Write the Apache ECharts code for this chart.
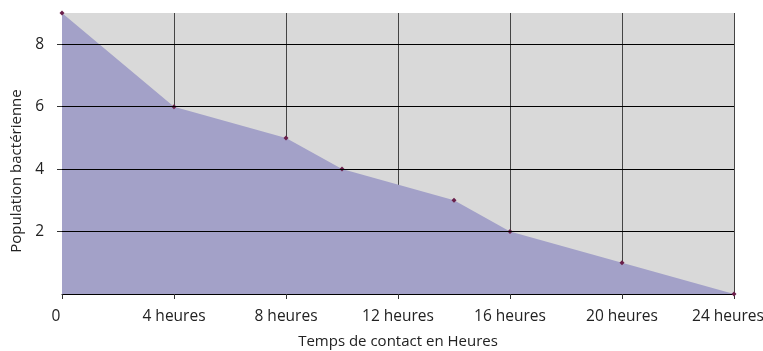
<!DOCTYPE html>
<html>
<head>
<meta charset="utf-8">
<script src="https://cdn.jsdelivr.net/npm/echarts@6/dist/echarts.min.js"></script>
<style>
	html, body { margin: 0; padding: 0; background: #fff; }
	#main { width: 763px; height: 351px; }
</style>
</head>
<body>
<div id="main"></div>
<script>
// heures de contact et population
var hours = [ 0, 4, 8, 10, 14, 16, 20, 24 ];
var population = [ 9, 6, 5, 4, 3, 2, 1, 0 ];
var xTicks = [ 0, 4, 8, 12, 16, 20, 24 ];
var yGridLines = [ 2, 4, 6, 8 ];

var points = [];
for (var i = 0; i < hours.length; i++) {
	points.push([ hours[i], population[i] ]);
}

var hLines = [];
for (var j = 0; j < yGridLines.length; j++) {
	hLines.push({
		yAxis : yGridLines[j]
	});
}

var font = 'Open Sans';
var xMax = xTicks[xTicks.length - 1];

var option = {
	animation : false,
	textStyle : {
		fontFamily : font
	},
	grid : {
		left : 62,
		right : 29,
		top : 13,
		bottom : 57,
		outerBoundsMode : 'none',
		containLabel : false,
		show : true,
		backgroundColor : '#d9d9d9',
		borderWidth : 0
	},
	xAxis : {
		type : 'value',
		min : xTicks[0],
		max : xMax,
		interval : 4,
		name : 'Temps de contact en Heures',
		nameLocation : 'middle',
		nameGap : 40,
		nameTextStyle : {
			fontSize : 15,
			color : '#222',
			fontFamily : font
		},
		axisLine : {
			show : true,
			lineStyle : {
				color : '#000'
			}
		},
		axisTick : {
			show : true,
			length : 5,
			lineStyle : {
				color : '#333'
			}
		},
		axisLabel : {
			fontSize : 15.5,
			color : '#222',
			margin : 15,
			formatter : function(v) {
				if (v === 0) {
					return '{e|0}';
				}
				if (v === xMax) {
					return '{e|' + v + ' heures}';
				}
				return v + ' heures';
			},
			rich : {
				e : {
					fontSize : 15.5,
					color : '#222',
					fontFamily : font,
					padding : [ 0, 12, 0, 0 ]
				}
			}
		},
		splitLine : {
			show : true,
			lineStyle : {
				color : '#444',
				width : 1
			}
		}
	},
	yAxis : {
		type : 'value',
		min : 0,
		max : 9,
		interval : 2,
		name : 'Population bactérienne',
		nameLocation : 'middle',
		nameGap : 38,
		nameTextStyle : {
			fontSize : 15,
			color : '#222',
			fontFamily : font,
			padding : [ 0, 35, 0, 0 ]
		},
		axisLine : {
			show : true,
			lineStyle : {
				color : '#000'
			}
		},
		axisTick : {
			show : true,
			length : 5,
			lineStyle : {
				color : '#333'
			}
		},
		axisLabel : {
			fontSize : 15.5,
			color : '#222',
			margin : 18,
			showMinLabel : false,
			showMaxLabel : false
		},
		splitLine : {
			show : false
		}
	},
	series : [ {
		// lignes horizontales du quadrillage, sous l'aire
		type : 'line',
		data : [],
		z : 1,
		markLine : {
			silent : true,
			symbol : 'none',
			label : {
				show : false
			},
			lineStyle : {
				color : '#000',
				type : 'solid',
				width : 1
			},
			data : hLines
		}
	}, {
		type : 'line',
		data : points,
		symbol : 'diamond',
		symbolSize : 5,
		itemStyle : {
			color : '#6a1f4a'
		},
		lineStyle : {
			width : 0
		},
		areaStyle : {
			color : '#a3a1c8',
			opacity : 1
		},
		z : 3
	} ]
};

var myChart = echarts.init(document.getElementById('main'));
myChart.setOption(option);
</script>
</body>
</html>
